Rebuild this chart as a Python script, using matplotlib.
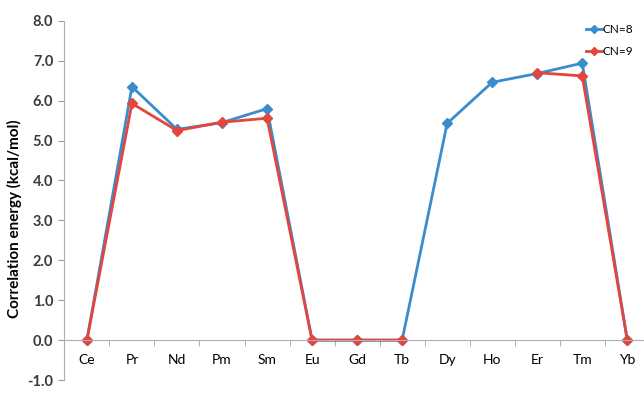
import numpy as np
import matplotlib.pyplot as plt

elements = ["Ce", "Pr", "Nd", "Pm", "Sm", "Eu", "Gd", "Tb", "Dy", "Ho", "Er", "Tm", "Yb"]
cn8 = [0.0, 6.35, 5.28, 5.45, 5.80, 0.0, 0.0, 0.0, 5.43, 6.46, 6.68, 6.94, 0.0]
cn9 = [0.0, 5.93, 5.25, 5.46, 5.56, 0.0, 0.0, 0.0, np.nan, np.nan, 6.70, 6.62, 0.0]

plt.rcParams['font.family'] = ['Lato', 'DejaVu Sans']

fig = plt.figure(figsize=(6.44, 3.93), dpi=100)
ax = fig.add_axes([0.100, 0.033, 0.909, 0.914])

x = np.arange(len(elements))
l8, = ax.plot(x, cn8, color="#3a8ccc", marker="D", markersize=5, lw=2, label="CN=8")
l9, = ax.plot(x, cn9, color="#e2463c", marker="D", markersize=5, lw=2, label="CN=9")

ax.set_xlim(-0.5, len(elements) - 0.5)
ax.set_ylim(-1, 8)
ax.set_yticks(np.arange(-1, 9, 1))
ax.set_yticklabels([f"{v:.1f}" for v in np.arange(-1, 9, 1)], fontweight="bold", color="#3a3a3a", fontsize=10.5)
ax.set_xticks(x)
ax.set_xticklabels(elements, fontsize=10, color="#303030")
ax.set_xticks(np.arange(-0.5, len(elements), 1), minor=True)
ax.tick_params(axis="x", which="major", length=0, pad=10)
ax.tick_params(axis="x", which="minor", length=4, direction="out", color="#a0a0a0")
ax.tick_params(axis="y", length=4, color="#a0a0a0", pad=4)

for s in ["top", "right"]:
    ax.spines[s].set_visible(False)
ax.spines["bottom"].set_position(("data", 0))
ax.spines["bottom"].set_color("#b0b0b0")
ax.spines["left"].set_color("#b0b0b0")

ax.set_ylabel("Correlation energy (kcal/mol)", fontweight="bold", fontsize=11, labelpad=6)
ax.yaxis.set_label_coords(-0.073, 0.45)

fig.legend(handles=[l8, l9], loc="upper right", bbox_to_anchor=(1.0, 0.965), frameon=False,
           fontsize=8.5, handlelength=1.3, handletextpad=0.1, labelspacing=0.9, markerscale=0.8)

fig.savefig("out.png", dpi=100)
